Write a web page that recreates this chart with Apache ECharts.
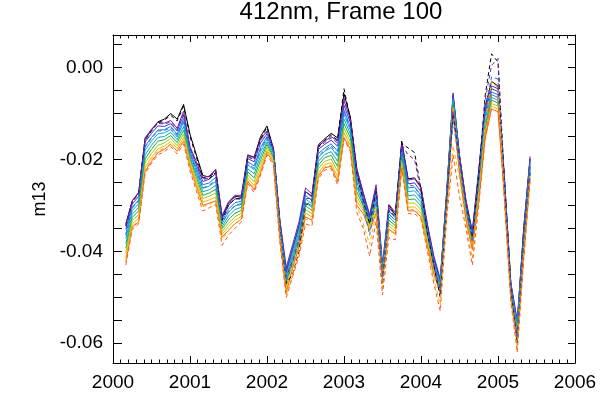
<!DOCTYPE html>
<html><head><meta charset="utf-8">
<script src="https://cdn.jsdelivr.net/npm/echarts@6/dist/echarts.min.js"></script>
<style>html,body{margin:0;padding:0;background:#fff}#c{width:614px;height:397px}</style>
</head><body><div id="c"></div>
<script>
const months = ['2000-03','2000-04','2000-05','2000-06','2000-07','2000-08','2000-09','2000-10','2000-11','2000-12',
'2001-01','2001-02','2001-03','2001-04','2001-05','2001-06','2001-07','2001-08','2001-09','2001-10','2001-11','2001-12',
'2002-01','2002-02','2002-03','2002-04','2002-05','2002-06','2002-07','2002-08','2002-09','2002-10','2002-11','2002-12',
'2003-01','2003-02','2003-03','2003-04','2003-05','2003-06','2003-07','2003-08','2003-09','2003-10','2003-11','2003-12',
'2004-01','2004-02','2004-03','2004-04','2004-05','2004-06','2004-07','2004-08','2004-09','2004-10','2004-11','2004-12',
'2005-01','2005-02','2005-03','2005-04','2005-05','2005-06'];

const xTicks = [2000, 2001, 2002, 2003, 2004, 2005, 2006];
const yTicks = [-0.06, -0.04, -0.02, 0.00];

// solid lines
const black = [-0.0340,-0.0290,-0.0272,-0.0155,-0.0136,-0.0118,-0.0112,-0.0100,-0.0112,-0.0080,
-0.0145,-0.0190,-0.0235,-0.0238,-0.0222,-0.0325,-0.0295,-0.0280,-0.0282,-0.0190,
-0.0195,-0.0150,-0.0127,-0.0176,-0.0335,-0.0445,-0.0395,-0.0345,-0.0270,-0.0280,
-0.0168,-0.0155,-0.0143,-0.0153,-0.0057,-0.0108,-0.0222,-0.0275,-0.0325,-0.0262,
-0.0440,-0.0300,-0.0320,-0.0160,-0.0242,-0.0240,-0.0260,-0.0345,-0.0415,-0.0465,
-0.0272,-0.0060,-0.0192,-0.0290,-0.0360,-0.0225,-0.0085,-0.0030,-0.0040,-0.0240,
-0.0470,-0.0560,-0.0350,-0.0198];
const purple = [-0.0342,-0.0290,-0.0272,-0.0153,-0.0134,-0.0119,-0.0121,-0.0115,-0.0132,-0.0095,
-0.0172,-0.0205,-0.0240,-0.0236,-0.0222,-0.0322,-0.0292,-0.0278,-0.0278,-0.0191,
-0.0196,-0.0155,-0.0138,-0.0174,-0.0330,-0.0435,-0.0385,-0.0335,-0.0262,-0.0275,
-0.0170,-0.0160,-0.0150,-0.0160,-0.0072,-0.0112,-0.0220,-0.0272,-0.0320,-0.0255,
-0.0428,-0.0298,-0.0315,-0.0165,-0.0245,-0.0242,-0.0262,-0.0340,-0.0410,-0.0460,
-0.0270,-0.0055,-0.0190,-0.0288,-0.0355,-0.0222,-0.0090,-0.0040,-0.0046,-0.0238,
-0.0468,-0.0550,-0.0352,-0.0193];
const blue = [-0.0352,-0.0297,-0.0280,-0.0162,-0.0143,-0.0127,-0.0128,-0.0122,-0.0138,-0.0103,
-0.0177,-0.0212,-0.0248,-0.0243,-0.0231,-0.0328,-0.0300,-0.0286,-0.0285,-0.0198,
-0.0205,-0.0164,-0.0144,-0.0178,-0.0335,-0.0442,-0.0392,-0.0342,-0.0270,-0.0282,
-0.0178,-0.0167,-0.0158,-0.0171,-0.0082,-0.0120,-0.0230,-0.0278,-0.0324,-0.0263,
-0.0432,-0.0305,-0.0321,-0.0171,-0.0253,-0.0251,-0.0270,-0.0346,-0.0415,-0.0464,
-0.0275,-0.0060,-0.0195,-0.0294,-0.0360,-0.0231,-0.0098,-0.0046,-0.0052,-0.0243,
-0.0472,-0.0555,-0.0359,-0.0199];
const azure = [-0.0362,-0.0304,-0.0288,-0.0171,-0.0152,-0.0136,-0.0135,-0.0128,-0.0145,-0.0111,
-0.0183,-0.0219,-0.0255,-0.0251,-0.0239,-0.0334,-0.0308,-0.0294,-0.0291,-0.0205,
-0.0214,-0.0174,-0.0150,-0.0182,-0.0340,-0.0449,-0.0398,-0.0349,-0.0278,-0.0289,
-0.0187,-0.0175,-0.0166,-0.0182,-0.0092,-0.0129,-0.0240,-0.0284,-0.0329,-0.0271,
-0.0436,-0.0312,-0.0327,-0.0178,-0.0262,-0.0260,-0.0278,-0.0352,-0.0420,-0.0468,
-0.0281,-0.0066,-0.0200,-0.0299,-0.0365,-0.0239,-0.0106,-0.0053,-0.0059,-0.0249,
-0.0476,-0.0560,-0.0367,-0.0205];
const lightBlue = [-0.0372,-0.0311,-0.0296,-0.0180,-0.0160,-0.0144,-0.0142,-0.0135,-0.0151,-0.0119,
-0.0188,-0.0225,-0.0263,-0.0258,-0.0248,-0.0340,-0.0315,-0.0301,-0.0298,-0.0212,
-0.0222,-0.0183,-0.0156,-0.0186,-0.0345,-0.0456,-0.0405,-0.0356,-0.0286,-0.0296,
-0.0195,-0.0182,-0.0174,-0.0193,-0.0102,-0.0137,-0.0250,-0.0289,-0.0333,-0.0279,
-0.0440,-0.0318,-0.0333,-0.0184,-0.0270,-0.0268,-0.0286,-0.0358,-0.0425,-0.0471,
-0.0286,-0.0071,-0.0205,-0.0305,-0.0370,-0.0248,-0.0114,-0.0059,-0.0065,-0.0254,
-0.0480,-0.0565,-0.0374,-0.0211];
const teal = [-0.0383,-0.0319,-0.0304,-0.0190,-0.0169,-0.0152,-0.0150,-0.0141,-0.0157,-0.0128,
-0.0194,-0.0232,-0.0270,-0.0266,-0.0256,-0.0346,-0.0323,-0.0309,-0.0304,-0.0220,
-0.0231,-0.0192,-0.0162,-0.0191,-0.0350,-0.0463,-0.0411,-0.0363,-0.0294,-0.0304,
-0.0204,-0.0189,-0.0183,-0.0204,-0.0112,-0.0145,-0.0260,-0.0295,-0.0338,-0.0287,
-0.0444,-0.0325,-0.0339,-0.0190,-0.0279,-0.0277,-0.0294,-0.0364,-0.0430,-0.0475,
-0.0291,-0.0076,-0.0210,-0.0310,-0.0376,-0.0256,-0.0123,-0.0065,-0.0071,-0.0259,
-0.0484,-0.0570,-0.0381,-0.0217];
const green = [-0.0393,-0.0326,-0.0312,-0.0199,-0.0178,-0.0160,-0.0157,-0.0148,-0.0163,-0.0136,
-0.0199,-0.0239,-0.0278,-0.0273,-0.0265,-0.0351,-0.0331,-0.0317,-0.0311,-0.0227,
-0.0240,-0.0201,-0.0167,-0.0195,-0.0355,-0.0469,-0.0418,-0.0369,-0.0301,-0.0311,
-0.0212,-0.0196,-0.0191,-0.0215,-0.0122,-0.0153,-0.0270,-0.0301,-0.0342,-0.0294,
-0.0448,-0.0332,-0.0344,-0.0196,-0.0287,-0.0286,-0.0301,-0.0370,-0.0435,-0.0479,
-0.0296,-0.0081,-0.0215,-0.0316,-0.0381,-0.0265,-0.0131,-0.0071,-0.0077,-0.0264,
-0.0488,-0.0575,-0.0388,-0.0222];
const lime = [-0.0403,-0.0333,-0.0320,-0.0208,-0.0187,-0.0169,-0.0164,-0.0154,-0.0170,-0.0144,
-0.0204,-0.0246,-0.0285,-0.0280,-0.0273,-0.0357,-0.0339,-0.0325,-0.0317,-0.0234,
-0.0249,-0.0211,-0.0173,-0.0199,-0.0360,-0.0476,-0.0424,-0.0376,-0.0309,-0.0318,
-0.0220,-0.0204,-0.0199,-0.0226,-0.0132,-0.0162,-0.0280,-0.0307,-0.0346,-0.0302,
-0.0452,-0.0339,-0.0350,-0.0203,-0.0295,-0.0295,-0.0309,-0.0376,-0.0440,-0.0483,
-0.0302,-0.0087,-0.0220,-0.0321,-0.0386,-0.0273,-0.0139,-0.0078,-0.0084,-0.0270,
-0.0492,-0.0580,-0.0396,-0.0228];
const yellow = [-0.0413,-0.0340,-0.0328,-0.0217,-0.0195,-0.0177,-0.0171,-0.0161,-0.0176,-0.0152,
-0.0210,-0.0252,-0.0293,-0.0288,-0.0282,-0.0363,-0.0346,-0.0332,-0.0324,-0.0241,
-0.0257,-0.0220,-0.0179,-0.0203,-0.0365,-0.0483,-0.0431,-0.0383,-0.0317,-0.0325,
-0.0229,-0.0211,-0.0207,-0.0237,-0.0142,-0.0170,-0.0290,-0.0312,-0.0351,-0.0310,
-0.0456,-0.0345,-0.0356,-0.0209,-0.0304,-0.0303,-0.0317,-0.0382,-0.0445,-0.0486,
-0.0307,-0.0092,-0.0225,-0.0327,-0.0391,-0.0282,-0.0147,-0.0084,-0.0090,-0.0275,
-0.0496,-0.0585,-0.0403,-0.0234];
const red = [-0.0423,-0.0347,-0.0336,-0.0226,-0.0204,-0.0185,-0.0178,-0.0167,-0.0182,-0.0160,
-0.0215,-0.0259,-0.0300,-0.0295,-0.0290,-0.0369,-0.0354,-0.0340,-0.0330,-0.0248,
-0.0266,-0.0229,-0.0185,-0.0207,-0.0370,-0.0490,-0.0437,-0.0390,-0.0325,-0.0332,
-0.0237,-0.0218,-0.0215,-0.0248,-0.0152,-0.0178,-0.0300,-0.0318,-0.0355,-0.0318,
-0.0460,-0.0352,-0.0362,-0.0215,-0.0312,-0.0312,-0.0325,-0.0388,-0.0450,-0.0490,
-0.0312,-0.0097,-0.0230,-0.0332,-0.0396,-0.0290,-0.0155,-0.0090,-0.0096,-0.0280,
-0.0500,-0.0590,-0.0410,-0.0240];

// dashed lines
const blackDashed = [-0.0345,-0.0292,-0.0275,-0.0158,-0.0138,-0.0120,-0.0114,-0.0104,-0.0116,-0.0084,
-0.0150,-0.0195,-0.0240,-0.0242,-0.0228,-0.0332,-0.0300,-0.0285,-0.0286,-0.0194,
-0.0200,-0.0155,-0.0130,-0.0180,-0.0345,-0.0470,-0.0450,-0.0400,-0.0300,-0.0290,
-0.0172,-0.0158,-0.0146,-0.0158,-0.0046,-0.0112,-0.0230,-0.0290,-0.0340,-0.0270,
-0.0480,-0.0310,-0.0325,-0.0165,-0.0175,-0.0185,-0.0265,-0.0360,-0.0430,-0.0500,
-0.0290,-0.0100,-0.0200,-0.0295,-0.0370,-0.0235,-0.0060,0.0030,0.0012,-0.0250,
-0.0480,-0.0600,-0.0370,-0.0230];
const purpleDashed = [-0.0345,-0.0292,-0.0274,-0.0155,-0.0136,-0.0121,-0.0123,-0.0118,-0.0135,-0.0098,
-0.0175,-0.0208,-0.0244,-0.0240,-0.0226,-0.0328,-0.0297,-0.0282,-0.0281,-0.0194,
-0.0199,-0.0158,-0.0140,-0.0176,-0.0338,-0.0455,-0.0420,-0.0375,-0.0285,-0.0285,
-0.0174,-0.0163,-0.0153,-0.0164,-0.0066,-0.0115,-0.0226,-0.0285,-0.0335,-0.0262,
-0.0455,-0.0305,-0.0320,-0.0168,-0.0190,-0.0200,-0.0270,-0.0350,-0.0425,-0.0485,
-0.0285,-0.0095,-0.0198,-0.0295,-0.0365,-0.0228,-0.0070,0.0005,0.0020,-0.0245,
-0.0478,-0.0585,-0.0365,-0.0215];
const azureDashed = [-0.0365,-0.0306,-0.0290,-0.0173,-0.0154,-0.0138,-0.0137,-0.0131,-0.0148,-0.0114,
-0.0187,-0.0224,-0.0262,-0.0256,-0.0245,-0.0340,-0.0314,-0.0300,-0.0296,-0.0209,
-0.0219,-0.0178,-0.0153,-0.0185,-0.0348,-0.0465,-0.0425,-0.0380,-0.0295,-0.0300,
-0.0192,-0.0180,-0.0170,-0.0190,-0.0095,-0.0133,-0.0250,-0.0300,-0.0365,-0.0285,
-0.0465,-0.0320,-0.0332,-0.0182,-0.0255,-0.0258,-0.0285,-0.0360,-0.0432,-0.0490,
-0.0290,-0.0115,-0.0210,-0.0308,-0.0380,-0.0245,-0.0090,-0.0020,-0.0025,-0.0258,
-0.0485,-0.0590,-0.0380,-0.0225];
const yellowDashed = [-0.0418,-0.0345,-0.0333,-0.0222,-0.0200,-0.0181,-0.0176,-0.0167,-0.0182,-0.0157,
-0.0218,-0.0262,-0.0303,-0.0298,-0.0290,-0.0375,-0.0355,-0.0340,-0.0330,-0.0246,
-0.0262,-0.0225,-0.0183,-0.0208,-0.0375,-0.0495,-0.0450,-0.0405,-0.0330,-0.0335,
-0.0233,-0.0216,-0.0212,-0.0245,-0.0140,-0.0175,-0.0300,-0.0340,-0.0385,-0.0318,
-0.0480,-0.0355,-0.0362,-0.0214,-0.0310,-0.0308,-0.0322,-0.0395,-0.0460,-0.0515,
-0.0315,-0.0170,-0.0240,-0.0340,-0.0415,-0.0290,-0.0120,-0.0030,-0.0045,-0.0285,
-0.0505,-0.0610,-0.0415,-0.0245];
const redDashed = [-0.0430,-0.0352,-0.0340,-0.0230,-0.0208,-0.0190,-0.0183,-0.0172,-0.0188,-0.0166,
-0.0225,-0.0269,-0.0312,-0.0305,-0.0298,-0.0387,-0.0365,-0.0350,-0.0336,-0.0252,
-0.0272,-0.0234,-0.0190,-0.0212,-0.0380,-0.0500,-0.0455,-0.0410,-0.0340,-0.0345,
-0.0242,-0.0223,-0.0220,-0.0255,-0.0155,-0.0183,-0.0315,-0.0350,-0.0410,-0.0335,
-0.0495,-0.0370,-0.0375,-0.0220,-0.0318,-0.0318,-0.0330,-0.0400,-0.0470,-0.0530,
-0.0330,-0.0190,-0.0280,-0.0350,-0.0430,-0.0300,-0.0150,-0.0060,-0.0065,-0.0290,
-0.0510,-0.0620,-0.0420,-0.0245];

function toYear(s) { const p = s.split('-'); return +p[0] + (+p[1] - 1) / 12; }
const xs = months.map(toYear);

const solidLines = [
  {data: black, color: '#000000'},
  {data: purple, color: '#7a1fa0'},
  {data: blue, color: '#3838d8'},
  {data: azure, color: '#1f78e0'},
  {data: lightBlue, color: '#12a6e6'},
  {data: teal, color: '#10aaa8'},
  {data: green, color: '#22a84a'},
  {data: lime, color: '#9ccd1a'},
  {data: yellow, color: '#f5b800'},
  {data: red, color: '#ff5a1e'}
];
const dashedLines = [
  {data: blackDashed, color: '#000000'},
  {data: purpleDashed, color: '#7a1fa0'},
  {data: azureDashed, color: '#1f78e0'},
  {data: yellowDashed, color: '#f5b800'},
  {data: redDashed, color: '#ff5a1e'}
];

const series = [];
function addLine(l, dashed) {
  series.push({
    type: 'line', data: xs.map((x, i) => [x, l.data[i]]),
    symbol: 'none', showSymbol: false, silent: true, animation: false,
    lineStyle: {color: l.color, width: 1, type: dashed ? [4, 3] : 'solid'},
    itemStyle: {color: l.color}, emphasis: {disabled: true}, z: dashed ? 3 : 2
  });
}
solidLines.forEach(l => addLine(l, false));
dashedLines.forEach(l => addLine(l, true));

const F = '"Liberation Sans", Arial, sans-serif';
const lineC = {color: '#000', width: 1};
const xBase = {
  type: 'value', min: 2000, max: 2006, interval: 1,
  splitLine: {show: false},
  axisLine: {show: true, onZero: false, lineStyle: lineC},
  axisTick: {show: true, inside: true, length: 7, lineStyle: lineC},
  minorTick: {show: true, splitNumber: 10, length: 3.5, lineStyle: lineC}
};
const yBase = {
  type: 'value', min: -0.0643, max: 0.0071, minInterval: 0.005, maxInterval: 0.005, splitNumber: 14,
  splitLine: {show: false},
  axisLine: {show: true, onZero: false, lineStyle: lineC},
  axisTick: {show: true, inside: true, length: 9, lineStyle: lineC}
};
function yLabel(v) {
  for (const t of yTicks) if (Math.abs(v - t) < 1e-9) return (Math.abs(t) < 1e-12 ? 0 : t).toFixed(2);
  return '';
}

const chart = echarts.init(document.getElementById('c'), null, {renderer: 'canvas'});
chart.setOption({
  animation: false,
  backgroundColor: '#fff',
  title: {text: '412nm, Frame 100', left: 341, top: 0, textAlign: 'center', padding: 0,
    textStyle: {fontFamily: F, fontSize: 24, fontWeight: 'normal', color: '#000'}},
  grid: {left: 113, right: 39, top: 35, bottom: 34, containLabel: false},
  xAxis: [
    Object.assign({}, xBase, {position: 'bottom',
      axisLabel: {show: true, color: '#000', fontFamily: F, fontSize: 19, margin: 10,
        formatter: v => xTicks.includes(v) ? String(v) : ''}}),
    Object.assign({}, xBase, {position: 'top', axisLabel: {show: false}})
  ],
  yAxis: [
    Object.assign({}, yBase, {position: 'left',
      axisLabel: {show: true, color: '#000', fontFamily: F, fontSize: 19, margin: 10, formatter: yLabel},
      name: 'm13', nameLocation: 'middle', nameRotate: 90, nameGap: 64,
      nameTextStyle: {fontFamily: F, fontSize: 18, color: '#000'}}),
    Object.assign({}, yBase, {position: 'right', axisLabel: {show: false},
      axisTick: {show: true, inside: true, length: 7, lineStyle: lineC}})
  ],
  series: series
});
</script></body></html>
